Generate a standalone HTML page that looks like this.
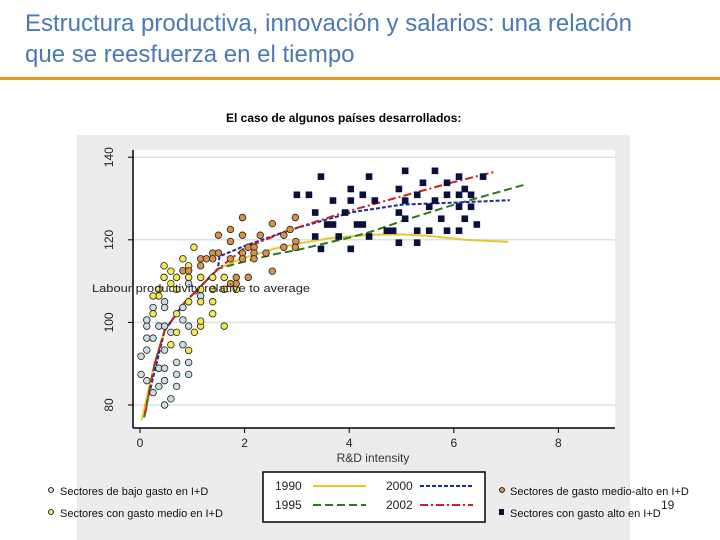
<!DOCTYPE html>
<html><head><meta charset="utf-8"><style>
body{margin:0;width:720px;height:540px;overflow:hidden;background:#fff;font-family:"Liberation Sans",sans-serif;position:relative}
.t{position:absolute}
</style></head><body>
<div class="t" style="left:25px;top:8px;font-size:24px;line-height:31px;color:#4a7ab5">Estructura productiva, innovación y salarios: una relación<br>que se reesfuerza en el tiempo</div>
<div class="t" style="left:0;top:77px;width:720px;height:3px;background:#f0961e"></div>
<div class="t" style="left:226px;top:111px;font-size:12px;font-weight:bold">El caso de algunos países desarrollados:</div>
<svg class="t" style="left:0;top:0" width="720" height="540" id="chart">
<rect x="77" y="135" width="553" height="405" fill="#ececec"/>
<rect x="133" y="150" width="482" height="278" fill="#fff"/>
<g id="grid"></g><g id="lines"></g><g id="pts"></g><g id="axes"></g>
<text x="373" y="462" font-size="12" text-anchor="middle" fill="#333">R&amp;D intensity</text>
<text x="92" y="292" font-size="11" fill="#222" textLength="218" lengthAdjust="spacingAndGlyphs">Labour productivity relative to average</text>
<rect x="263" y="472" width="222" height="50" fill="#fff" stroke="#000" stroke-width="1.5"/>
<g font-size="12" fill="#222">
<text x="275" y="490">1990</text>
<line x1="313" y1="486" x2="366" y2="486" stroke="#e8c830" stroke-width="2"/>
<text x="275" y="509">1995</text>
<line x1="313" y1="505" x2="366" y2="505" stroke="#2a7a1a" stroke-width="2" stroke-dasharray="8,4"/>
<text x="386" y="490">2000</text>
<line x1="420" y1="486" x2="473" y2="486" stroke="#1a2aa0" stroke-width="2" stroke-dasharray="4,2"/>
<text x="386" y="509">2002</text>
<line x1="420" y1="505" x2="473" y2="505" stroke="#d02020" stroke-width="2" stroke-dasharray="8,3,2,3"/>
</g>
<g font-size="11" fill="#111">
<circle cx="51" cy="490" r="2.5" fill="#c8dde6" stroke="#000" stroke-width="0.8"/>
<text x="60" y="495">Sectores de bajo gasto en I+D</text>
<circle cx="51" cy="512" r="2.5" fill="#f2ea50" stroke="#000" stroke-width="0.8"/>
<text x="60" y="517">Sectores con gasto medio en I+D</text>
<circle cx="502" cy="490" r="2.5" fill="#d8904a" stroke="#000" stroke-width="0.8"/>
<text x="510" y="495">Sectores de gasto medio-alto en I+D</text>
<rect x="499" y="509" width="5" height="6" fill="#0a0f3c"/>
<text x="510" y="517">Sectores con gasto alto en I+D</text>
</g>
<text x="661" y="509" font-size="12" fill="#222">19</text>
</svg>
<script>
const xTicks=[0,2,4,6,8];
const yTicks=[80,100,120,140];
const lowX=[0.02,0.13,0.13,0.25,0.13,0.13,0.36,0.47,0.47,0.36,0.47,0.02,0.13,0.25,0.36,0.47,0.47,0.59,0.70,0.70,0.70,0.93,0.93,0.82,0.59,0.82,0.82,0.47,0.47,0.25,0.93,1.16,0.93];
const lowY=[91.8,93.3,96.2,96.2,99.1,100.6,99.1,99.1,93.3,88.9,88.9,87.4,85.9,83.0,84.5,85.9,80,81.5,84.5,87.4,90.3,90.3,87.4,94.6,97.6,100.6,103.6,105.0,103.6,103.6,109.4,106.4,99.1];
const medX=[1.03,0.82,0.46,0.93,0.59,0.46,0.70,0.93,1.16,1.39,1.61,0.59,0.36,0.25,0.70,0.93,1.16,1.39,1.39,1.61,1.16,1.04,0.70,0.59,0.93,0.36,1.84,1.61,0.70,0.25,1.16,1.39,1.16];
const medY=[118.2,115.4,113.7,113.7,112.4,110.9,110.9,110.9,110.9,110.9,110.9,109.4,106.4,102.1,102.1,105.0,105.0,105.0,102.1,99.1,99.1,97.6,97.6,94.6,93.2,108.0,108.0,108.0,108.0,106.4,108.0,108.0,100.3];
const mhX=[1.96,1.73,1.50,1.96,2.30,2.53,2.97,2.75,2.87,1.73,2.98,1.39,1.50,2.07,2.18,1.96,2.18,2.41,2.75,2.97,1.16,1.27,1.39,1.73,1.96,2.18,0.82,0.93,1.84,2.07,2.53,1.84,1.73,1.16];
const mhY=[125.4,122.5,121.1,121.1,121.1,123.9,125.4,121.1,122.5,119.6,119.6,116.8,116.8,118.2,118.2,116.8,116.8,116.8,118.2,118.2,115.4,115.4,115.4,115.4,115.4,115.4,112.5,112.5,110.9,110.9,112.4,109.4,109.4,113.7];
const hiX=[3.46,4.38,5.07,5.64,6.10,6.56,5.41,5.87,4.03,4.95,6.21,3.00,3.23,4.26,5.30,5.87,6.10,6.33,3.69,4.03,4.49,5.07,5.64,3.35,3.92,4.95,5.53,6.10,6.33,5.07,5.76,6.21,3.58,3.69,4.15,4.26,6.44,4.72,4.84,5.30,5.53,5.87,6.10,3.35,3.80,4.38,4.95,5.30,3.46,4.03];
const hiY=[135.3,135.3,136.7,136.7,135.3,135.3,133.8,133.8,132.3,132.3,132.3,130.9,130.9,130.9,130.9,130.9,130.9,130.9,129.5,129.5,129.5,129.5,129.5,126.6,126.6,126.6,128.0,128.0,128.0,125.1,125.1,125.1,123.7,123.7,123.7,123.7,123.7,122.2,122.2,122.2,122.2,122.2,122.2,120.8,120.8,120.8,119.3,119.3,117.8,117.8];
const l1990X=[0.03,0.28,0.47,0.85,1.3,1.5,1.93,2.56,3.0,3.63,4.4,5.0,5.5,6.2,7.04];
const l1990Y=[76.3,90,98,104.8,110.5,113,115.4,117.8,119,120.4,121.2,121.3,121,120,119.5];
const l1995X=[0.08,0.28,0.47,0.85,1.3,1.5,1.93,2.56,3.0,4.0,4.4,5.0,6.0,7.4];
const l1995Y=[77,90,98,104.8,110.5,113,114.5,116.5,117.5,120.5,121.9,124.5,128.5,133.5];
const l2000X=[0.2,0.47,0.85,1.3,1.49,1.52,2.0,2.87,4.07,5.0,6.0,7.07];
const l2000Y=[84,98,104.8,110.5,113,116,118.5,122.4,126.7,128.5,129,129.6];
const l2002X=[0.1,0.28,0.47,0.85,1.3,1.5,2.0,2.87,4.0,5.0,6.0,6.79];
const l2002Y=[78,90,98,104.8,110.5,113,118,122.4,127,130.5,134,136.5];
const NS='http://www.w3.org/2000/svg';
const sx=v=>140+v*52.3, sy=v=>405-(v-80)*4.13;
function mk(tag,a,p){const e=document.createElementNS(NS,tag);for(const k in a)e.setAttribute(k,a[k]);document.getElementById(p).appendChild(e);return e;}
yTicks.forEach(t=>{
 const g=mk('line',{x1:133,x2:615,y1:sy(t),y2:sy(t),stroke:'#e0e0e0','stroke-width':1.5},'grid');
 
 
 const tk=mk('line',{x1:128,x2:133,y1:sy(t),y2:sy(t),stroke:'#000'},'axes');
 
 
 const tx=mk('text',{x:0,y:0,'font-size':12,fill:'#222','text-anchor':'middle',transform:`translate(113,${sy(t)}) rotate(-90)`},'axes');
 tx.textContent=t;
 
 
});
const ax=mk('line',{x1:133,x2:133,y1:150,y2:428,stroke:'#000','stroke-width':1.5},'axes');


const bx=mk('line',{x1:133,x2:615,y1:428,y2:428,stroke:'#000','stroke-width':1.5},'axes');


xTicks.forEach(t=>{
 const tk=mk('line',{x1:sx(t),x2:sx(t),y1:428,y2:433,stroke:'#000'},'axes');
 
 
 const tx=mk('text',{x:sx(t),y:447,'font-size':12,fill:'#222','text-anchor':'middle'},'axes');
 tx.textContent=t;
 
 
});
function line(X,Y,col,dash,name){
 const d=X.map((x,i)=>(i?'L':'M')+sx(x).toFixed(1)+','+sy(Y[i]).toFixed(1)).join(' ');
 const p=mk('path',{d:d,fill:'none',stroke:col,'stroke-width':2,'stroke-dasharray':dash},'lines');
 
 
}
function pts(X,Y,fill,name,sq){
 X.forEach((x,i)=>{
  let e;
  if(sq) e=mk('rect',{x:sx(x)-3.3,y:sy(Y[i])-3.3,width:6.6,height:6.6,fill:fill},'pts');
  else e=mk('circle',{cx:sx(x),cy:sy(Y[i]),r:3.3,fill:fill,stroke:'#222','stroke-width':0.8},'pts');
  
  
 });
}
pts(lowX,lowY,'#c8dde6','low-rd-point');
pts(medX,medY,'#f2ea50','medium-rd-point');
pts(mhX,mhY,'#d8904a','medium-high-rd-point');
pts(hiX,hiY,'#0a0f3c','high-rd-point',true);
line(l1990X,l1990Y,'#e8c830','none','line-1990');
line(l1995X,l1995Y,'#2a7a1a','8,4','line-1995');
line(l2000X,l2000Y,'#1a2aa0','4,2','line-2000');
line(l2002X,l2002Y,'#d02020','8,3,2,3','line-2002');
</script>
</body></html>
